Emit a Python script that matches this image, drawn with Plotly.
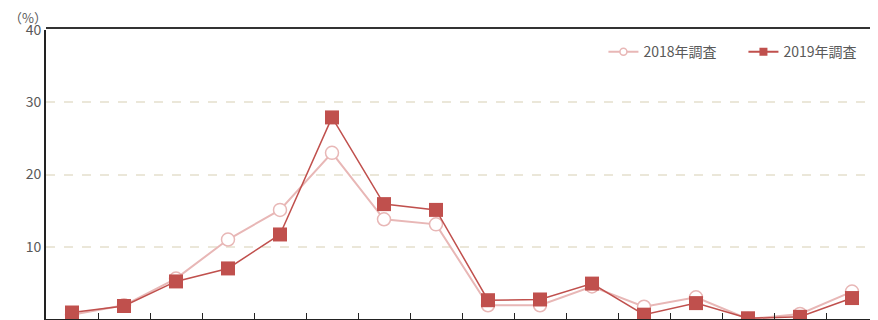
import plotly.graph_objects as go

categories = [str(i) for i in range(1, 17)]
v2018 = [0.6, 1.9, 5.6, 11.0, 15.1, 23.0, 13.8, 13.1, 1.9, 1.9, 4.5, 1.7, 3.0, 0.0, 0.7, 3.8]
v2019 = [0.9, 1.8, 5.2, 7.0, 11.7, 27.9, 15.9, 15.1, 2.6, 2.7, 4.9, 0.6, 2.2, 0.1, 0.3, 2.9]
series_names = ["2018年調査", "2019年調査"]
y_ticks = [0, 10, 20, 30, 40]

FONT = "Noto Sans CJK JP, Noto Sans, sans-serif"
C18 = "#e8b7b6"
C19 = "#c0504d"

fig = go.Figure()
fig.add_trace(go.Scatter(
    x=categories, y=v2018, name=series_names[0], mode="lines+markers",
    line=dict(color=C18, width=2),
    marker=dict(symbol="circle", size=13, color="white", line=dict(color=C18, width=1.5)),
    cliponaxis=False, showlegend=False,
))
fig.add_trace(go.Scatter(
    x=categories, y=v2019, name=series_names[1], mode="lines+markers",
    line=dict(color=C19, width=1.5),
    marker=dict(symbol="square", size=14, color=C19, line=dict(color=C19, width=0)),
    cliponaxis=False, showlegend=False,
))
# legend-only entries with small markers
fig.add_trace(go.Scatter(
    x=[None], y=[None], name=series_names[0], mode="lines+markers",
    line=dict(color=C18, width=2),
    marker=dict(symbol="circle", size=7, color="white", line=dict(color=C18, width=1.5)),
))
fig.add_trace(go.Scatter(
    x=[None], y=[None], name=series_names[1], mode="lines+markers",
    line=dict(color=C19, width=2),
    marker=dict(symbol="square", size=8, color=C19),
))

fig.update_layout(
    width=870, height=312,
    margin=dict(l=38, r=0, t=22, b=1, autoexpand=False),
    paper_bgcolor="white", plot_bgcolor="white",
    font=dict(family=FONT, color="#595959", size=14),
    showlegend=True,
    legend=dict(orientation="h", x=0.67, xanchor="left", y=0.979, yanchor="top",
                font=dict(size=14, color="#595959"), bgcolor="rgba(0,0,0,0)",
                traceorder="normal", entrywidth=95, entrywidthmode="pixels"),
    xaxis=dict(type="category", showgrid=False, showline=True, linecolor="#222222",
               linewidth=2, ticks="inside", ticklen=6, tickcolor="#222222",
               tickson="boundaries", showticklabels=False, zeroline=False,
               range=[-0.5, 15.5], automargin=False),
    yaxis=dict(range=[0, 40], tickvals=y_ticks, showgrid=True, gridcolor="#ebe7d9",
               griddash="dash", gridwidth=2, showline=True, linecolor="#222222",
               linewidth=2, ticks="", zeroline=False, automargin=False,
               tickfont=dict(size=14, color="#595959")),
    shapes=[dict(type="line", xref="paper", yref="paper", x0=0, x1=1,
                 y0=1.007, y1=1.007, line=dict(color="#333333", width=2))],
    annotations=[dict(text="（%）", xref="paper", x=-0.022, xanchor="center",
                      yref="paper", y=1.0, yshift=13, yanchor="middle", showarrow=False,
                      borderpad=0, font=dict(size=13, color="#595959"))],
)

fig.write_html("out.html")
